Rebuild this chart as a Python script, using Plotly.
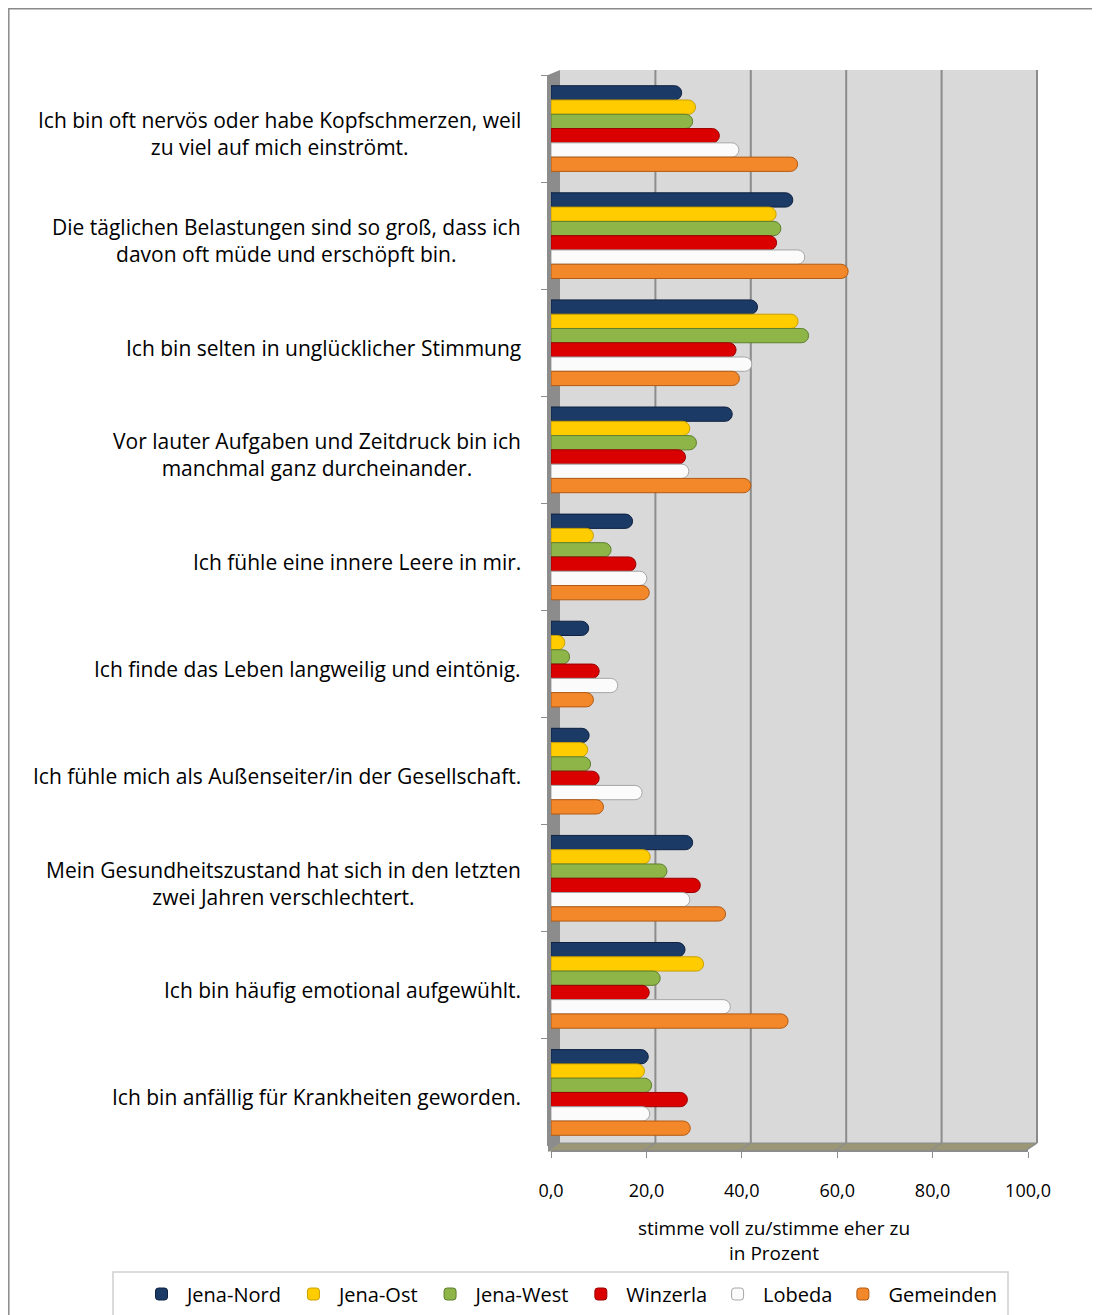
import plotly.graph_objects as go

categories = [
    "Ich bin oft nervös oder habe Kopfschmerzen, weil<br>zu viel auf mich einströmt.",
    "Die täglichen Belastungen sind so groß, dass ich<br>davon oft müde und erschöpft bin.",
    "Ich bin selten in unglücklicher Stimmung",
    "Vor lauter Aufgaben und Zeitdruck bin ich<br>manchmal ganz durcheinander.",
    "Ich fühle eine innere Leere in mir.",
    "Ich finde das Leben langweilig und eintönig.",
    "Ich fühle mich als Außenseiter/in der Gesellschaft.",
    "Mein Gesundheitszustand hat sich in den letzten<br>zwei Jahren verschlechtert.",
    "Ich bin häufig emotional aufgewühlt.",
    "Ich bin anfällig für Krankheiten geworden.",
]

series_names = ["Jena-Nord", "Jena-Ost", "Jena-West", "Winzerla", "Lobeda", "Gemeinden"]
jena_nord = [27.4, 50.7, 43.3, 38.0, 17.1, 7.9, 8.0, 29.7, 28.1, 20.4]
jena_ost = [30.3, 47.2, 51.8, 29.1, 8.9, 2.9, 7.7, 20.8, 32.0, 19.6]
jena_west = [29.7, 48.2, 54.0, 30.5, 12.6, 3.9, 8.3, 24.3, 22.9, 21.1]
winzerla = [35.3, 47.3, 38.8, 28.2, 17.8, 10.1, 10.1, 31.3, 20.6, 28.6]
lobeda = [39.4, 53.2, 42.1, 28.9, 20.1, 14.0, 19.1, 29.1, 37.6, 20.7]
gemeinden = [51.7, 62.3, 39.5, 41.9, 20.6, 8.9, 11.0, 36.6, 49.7, 29.2]

x_ticks = [0, 20, 40, 60, 80, 100]
x_ticktext = ["0,0", "20,0", "40,0", "60,0", "80,0", "100,0"]
x_title = "stimme voll zu/stimme eher zu<br>in Prozent"

fills = ["#1B3A66", "#FFCC00", "#8DB548", "#DA0000", "#FBFBFB", "#F3882B"]
lines = ["#0E2140", "#C9A000", "#5E7F2C", "#9A0000", "#A6A6A6", "#B35A12"]

FONT = "Open Sans"
OFF = 8  # page offset of the figure (body margin)
W, H = 1092, 1307
L, T = 548 - OFF, 70 - OFF
R = W - (1037 - OFF)
B = H - (1151 - OFF)
PW, PH = W - L - R, H - T - B


def px(x):
    """page pixel x -> paper fraction"""
    return (x - OFF - L) / PW


def py(y):
    """page pixel y -> paper fraction"""
    return (H - B - (y - OFF)) / PH


fig = go.Figure()
all_vals = [jena_nord, jena_ost, jena_west, winzerla, lobeda, gemeinden]
for name, vals, fc, lc in zip(series_names, all_vals, fills, lines):
    fig.add_trace(go.Bar(
        y=categories, x=vals, name=name, orientation="h",
        marker=dict(color=fc, line=dict(color=lc, width=1), cornerradius="50%"),
    ))

shapes = []
# back wall
shapes.append(dict(type="rect", xref="paper", yref="paper", x0=px(560), x1=px(1037),
                   y0=py(1143), y1=py(70), fillcolor="#D9D9D9", line=dict(width=0), layer="below"))
# left side wall
shapes.append(dict(type="path", xref="paper", yref="paper",
                   path=f"M{px(548)},{py(75)} L{px(560)},{py(70)} L{px(560)},{py(1143)} L{px(548)},{py(1151)} Z",
                   fillcolor="#8C8C8C", line=dict(width=0), layer="below"))
# floor
shapes.append(dict(type="path", xref="paper", yref="paper",
                   path=f"M{px(548)},{py(1151)} L{px(560)},{py(1143)} L{px(1037)},{py(1143)} L{px(1025)},{py(1151)} Z",
                   fillcolor="#9B9676", line=dict(color="#8C8C8C", width=1), layer="below"))
# right edge of back wall
shapes.append(dict(type="line", xref="paper", yref="paper", x0=px(1037), x1=px(1037),
                   y0=py(1143), y1=py(70), line=dict(color="#BFBFBF", width=2), layer="below"))
# gridlines (back wall + floor diagonals)
scale = (1025 - 548) / 100.0
for v in x_ticks[1:]:
    bx = 560 + v * scale
    fx = 548 + v * scale
    shapes.append(dict(type="line", xref="paper", yref="paper", x0=px(bx), x1=px(bx),
                       y0=py(1143), y1=py(70), line=dict(color="#8C8C8C", width=2), layer="below"))
    shapes.append(dict(type="line", xref="paper", yref="paper", x0=px(fx), x1=px(bx),
                       y0=py(1151), y1=py(1143), line=dict(color="#8C8C8C", width=1.5), layer="below"))
# legend box
shapes.append(dict(type="rect", xref="paper", yref="paper", x0=px(113), x1=px(1008),
                   y0=py(1330), y1=py(1272), line=dict(color="#D0D0D0", width=1.5),
                   fillcolor="rgba(0,0,0,0)", layer="below"))
# outer chart border
shapes.append(dict(type="rect", xref="paper", yref="paper", x0=px(8.8), x1=px(1130),
                   y0=py(1340), y1=py(8.8), line=dict(color="#8A8A8A", width=1.5),
                   fillcolor="rgba(0,0,0,0)", layer="below"))

annotations = []
for c in categories:
    annotations.append(dict(x=px(523), xref="paper", y=c, yref="y", text=c, showarrow=False,
                            xanchor="right", yanchor="middle", align="center", yshift=-5,
                            font=dict(family=FONT, size=21, color="#000000")))
# x-axis title
annotations.append(dict(x=px(774), xref="paper", y=py(1240), yref="paper", text=x_title,
                        showarrow=False, xanchor="center", yanchor="middle", align="center",
                        font=dict(family=FONT, size=19, color="#000000")))

fig.update_layout(
    width=W, height=H,
    margin=dict(l=L, r=R, t=T, b=B, autoexpand=False),
    paper_bgcolor="white", plot_bgcolor="rgba(0,0,0,0)",
    barmode="group", bargap=0.2, bargroupgap=0.0,
    font=dict(family=FONT, color="#000000"),
    shapes=shapes, annotations=annotations,
    showlegend=True,
    legend=dict(orientation="h", xref="paper", yref="paper",
                x=px(136), xanchor="left",
                y=py(1294), yanchor="middle",
                font=dict(family=FONT, size=20, color="#000000"), bgcolor="rgba(0,0,0,0)",
                borderwidth=0, traceorder="normal", itemwidth=41),
    xaxis=dict(range=[0, 100], domain=[px(551), px(1028)], anchor="free", position=0,
               tickvals=x_ticks, ticktext=x_ticktext, showgrid=False, zeroline=False,
               showline=True, linecolor="#8C8C8C", linewidth=1.5,
               ticks="outside", ticklen=6, tickcolor="#8C8C8C",
               tickfont=dict(family=FONT, size=18, color="#000000"),
               ticklabelstandoff=18),
    yaxis=dict(type="category", autorange="reversed", domain=[py(1146), py(75)],
               anchor="free", position=0, showticklabels=False, showgrid=False,
               zeroline=False, showline=True, linecolor="#8C8C8C", linewidth=1.5,
               ticks="outside", ticklen=6, tickcolor="#8C8C8C", tickson="boundaries"),
)

fig.write_html("out.html")
